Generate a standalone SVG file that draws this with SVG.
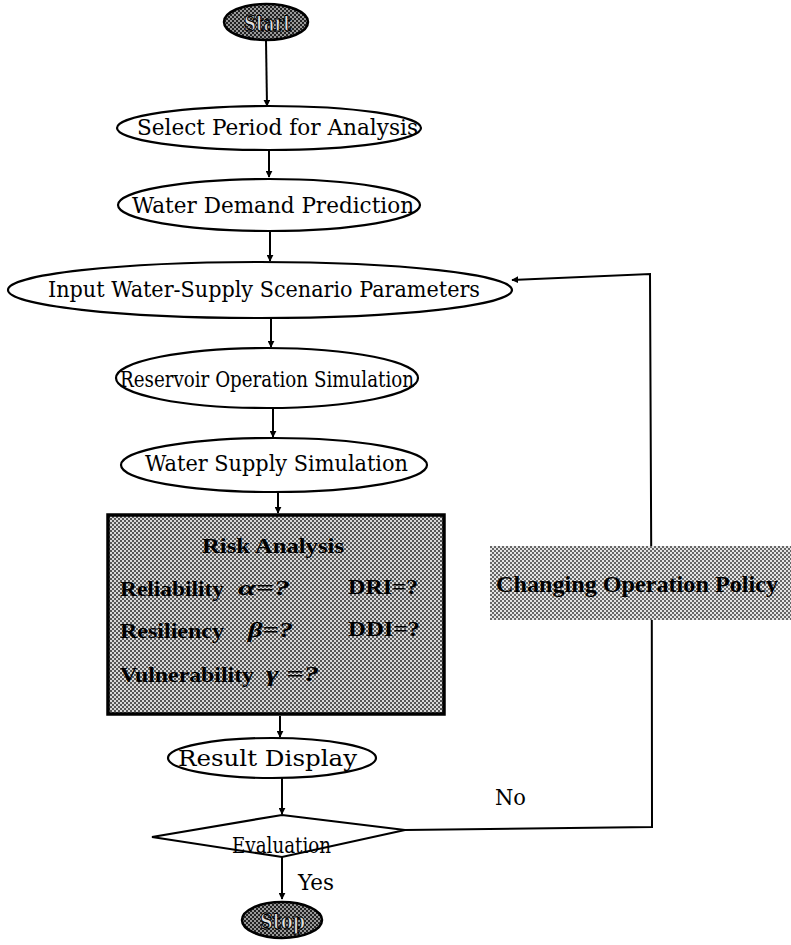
<svg xmlns="http://www.w3.org/2000/svg" width="791" height="945" viewBox="0 0 791 945">
<style>
.n{fill:#fff;stroke:#000;stroke-width:2.2}
.t{font-family:"DejaVu Serif","Liberation Serif",serif;font-size:22px;fill:#000}
.r{font-family:"Liberation Serif","DejaVu Serif",serif;font-size:22px;fill:#000;font-weight:bold}
.g{font-family:"Liberation Serif","DejaVu Serif",serif;font-size:22px;fill:#000;font-weight:bold;font-style:italic}
.w{font-family:"DejaVu Serif","Liberation Serif",serif;font-size:23px;font-weight:bold;fill:#e0e0e0;stroke:#000;stroke-width:1.2}
.c{fill:none;stroke:#000;stroke-width:2}
</style>
<defs>
<pattern id="dot" width="4" height="4" patternUnits="userSpaceOnUse">
<rect width="4" height="4" fill="#d8d8d8"/>
<rect width="2" height="2" fill="#555"/>
<rect x="2" y="2" width="2" height="2" fill="#555"/>
</pattern>
<pattern id="dot2" width="4" height="4" patternUnits="userSpaceOnUse">
<rect width="4" height="4" fill="#e4e4e4"/>
<rect width="2" height="2" fill="#666"/>
<rect x="2" y="2" width="2" height="2" fill="#666"/>
</pattern>
<pattern id="dark" width="4" height="4" patternUnits="userSpaceOnUse">
<rect width="4" height="4" fill="#999"/>
<rect width="2" height="2" fill="#222"/>
<rect x="2" y="2" width="2" height="2" fill="#222"/>
</pattern>
<marker id="ah" viewBox="0 0 10 10" refX="9" refY="5" markerWidth="7" markerHeight="7" orient="auto" markerUnits="userSpaceOnUse">
<path d="M0,0 L10,5 L0,10 z" fill="#000"/>
</marker>
</defs>
<g id="connectors">
<line class="c" x1="266" y1="40" x2="267" y2="106" marker-end="url(#ah)"/>
<line class="c" x1="269" y1="150" x2="269" y2="177" marker-end="url(#ah)"/>
<line class="c" x1="270" y1="232" x2="270" y2="261" marker-end="url(#ah)"/>
<line class="c" x1="271" y1="318" x2="271" y2="347" marker-end="url(#ah)"/>
<line class="c" x1="273" y1="408" x2="273" y2="437" marker-end="url(#ah)"/>
<line class="c" x1="278" y1="492" x2="278" y2="513" marker-end="url(#ah)"/>
<line class="c" x1="280" y1="716" x2="280" y2="737" marker-end="url(#ah)"/>
<line class="c" x1="282" y1="778" x2="282" y2="814" marker-end="url(#ah)"/>
<line class="c" x1="282" y1="857" x2="282" y2="899" marker-end="url(#ah)"/>
<path class="c" d="M405,830 L652,827 L651.8,620 M651.2,546 L650,274 L512,280" marker-end="url(#ah)"/>
</g>
<g id="start">
<ellipse cx="266" cy="22" rx="42" ry="18" fill="url(#dark)" stroke="#000" stroke-width="2.5"/>
<text class="w" x="244" y="31" textLength="47" lengthAdjust="spacingAndGlyphs">Start</text>
</g>
<g id="select">
<ellipse class="n" cx="269" cy="128" rx="152" ry="22"/>
<text class="t" x="137" y="135" textLength="281" lengthAdjust="spacingAndGlyphs">Select Period for Analysis</text>
</g>
<g id="demand">
<ellipse class="n" cx="269" cy="205" rx="151" ry="26"/>
<text class="t" x="132" y="213" textLength="282" lengthAdjust="spacingAndGlyphs">Water Demand Prediction</text>
</g>
<g id="input">
<ellipse class="n" cx="260" cy="290" rx="252" ry="28"/>
<text class="t" x="48" y="297" textLength="432" lengthAdjust="spacingAndGlyphs">Input Water-Supply Scenario Parameters</text>
</g>
<g id="reservoir">
<ellipse class="n" cx="267" cy="378" rx="151" ry="30"/>
<text class="t" x="120" y="387" textLength="294" lengthAdjust="spacingAndGlyphs">Reservoir Operation Simulation</text>
</g>
<g id="supply">
<ellipse class="n" cx="274" cy="465" rx="153" ry="27"/>
<text class="t" x="145" y="471" textLength="263" lengthAdjust="spacingAndGlyphs">Water Supply Simulation</text>
</g>
<g id="risk">
<rect x="108" y="515" width="336" height="199" fill="url(#dot)" stroke="#000" stroke-width="3.5"/>
<text class="r" x="202" y="553" textLength="142" lengthAdjust="spacingAndGlyphs">Risk Analysis</text>
<text class="r" x="120" y="596" textLength="104" lengthAdjust="spacingAndGlyphs">Reliability</text>
<text class="g" x="238" y="595" textLength="52" lengthAdjust="spacingAndGlyphs">α=?</text>
<text class="r" x="348" y="594" textLength="70" lengthAdjust="spacingAndGlyphs">DRI=?</text>
<text class="r" x="120" y="638" textLength="104" lengthAdjust="spacingAndGlyphs">Resiliency</text>
<text class="g" x="248" y="637" textLength="45" lengthAdjust="spacingAndGlyphs">β=?</text>
<text class="r" x="348" y="636" textLength="72" lengthAdjust="spacingAndGlyphs">DDI=?</text>
<text class="r" x="120" y="682" textLength="134" lengthAdjust="spacingAndGlyphs">Vulnerability</text>
<text class="g" x="266" y="681" textLength="53" lengthAdjust="spacingAndGlyphs">γ =?</text>
</g>
<g id="result">
<ellipse class="n" cx="272" cy="758" rx="104" ry="20"/>
<text class="t" x="178" y="766" textLength="179" lengthAdjust="spacingAndGlyphs">Result Display</text>
</g>
<g id="evaluation">
<polygon class="n" points="282,815 405,830 282,857 152,837"/>
<text class="t" x="232" y="853" textLength="99" lengthAdjust="spacingAndGlyphs">Evaluation</text>
</g>
<g id="policy">
<rect x="490" y="546" width="301" height="74" fill="url(#dot2)"/>
<text x="496" y="592" font-family="'Liberation Serif','DejaVu Serif',serif" font-size="23" font-weight="bold" fill="#000" textLength="282" lengthAdjust="spacingAndGlyphs">Changing Operation Policy</text>
</g>
<g id="labels">
<text class="t" x="495" y="805" textLength="31" lengthAdjust="spacingAndGlyphs">No</text>
<text class="t" x="298" y="890" textLength="36" lengthAdjust="spacingAndGlyphs">Yes</text>
</g>
<g id="stop">
<ellipse cx="282" cy="920" rx="40" ry="18" fill="url(#dark)" stroke="#000" stroke-width="2.5"/>
<text class="w" x="260" y="929" textLength="45" lengthAdjust="spacingAndGlyphs">Stop</text>
</g>
</svg>
